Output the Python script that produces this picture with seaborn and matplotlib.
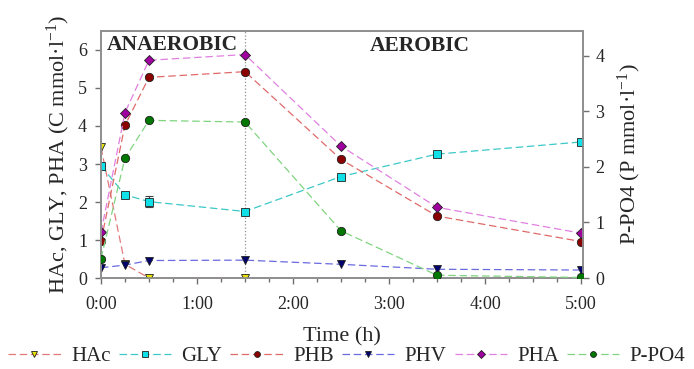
import matplotlib
matplotlib.use("Agg")
import matplotlib.pyplot as plt
import seaborn as sns
import numpy as np
from matplotlib.ticker import MultipleLocator

# ---- data ----
time_h = [0.0, 0.25, 0.5, 1.5, 2.5, 3.5, 5.0]
hac_time = [0.0, 0.25, 0.5, 1.5]
hac = [3.44, 0.36, 0.0, 0.0]
gly = [2.95, 2.19, 2.01, 1.75, 2.67, 3.26, 3.58]
gly_err = [0.0, 0.05, 0.15, 0.05, 0.0, 0.05, 0.0]
phb = [0.97, 4.02, 5.28, 5.43, 3.12, 1.63, 0.96]
phv = [0.27, 0.34, 0.46, 0.47, 0.36, 0.23, 0.21]
pha = [1.20, 4.35, 5.73, 5.88, 3.47, 1.86, 1.18]
ppo4 = [0.35, 2.16, 2.84, 2.81, 0.85, 0.05, 0.01]
x_ticklabels = ["0:00", "1:00", "2:00", "3:00", "4:00", "5:00"]

sns.set_style("white")
plt.rcParams["font.family"] = ["Liberation Serif", "DejaVu Serif"]
plt.rcParams["mathtext.fontset"] = "custom"
plt.rcParams["mathtext.rm"] = "Liberation Serif"
plt.rcParams["mathtext.it"] = "Liberation Serif:italic"

fig = plt.figure(figsize=(6.94, 3.69), dpi=100)
ax = fig.add_axes([0.1455, 0.2466, 0.6945, 0.6694])
ax2 = ax.twinx()

dash = (6, 3)
common = dict(linewidth=0.9, markersize=6, markeredgewidth=0.6, markeredgecolor="#202020")

sns.lineplot(x=hac_time, y=hac, ax=ax, color="#e07a7a", marker="v", markerfacecolor="#e8e400",
             dashes=dash, label="HAc", zorder=4, **common)
sns.lineplot(x=time_h, y=gly, ax=ax, color="#3cc8c8", marker="s", markerfacecolor="#10e0e8",
             dashes=dash, label="GLY", zorder=4, **common)
sns.lineplot(x=time_h, y=phb, ax=ax, color="#e06a6a", marker="o", markerfacecolor="#8b0000",
             dashes=dash, label="PHB", zorder=4, **common)
sns.lineplot(x=time_h, y=phv, ax=ax, color="#6a6ae0", marker="v", markerfacecolor="#00006e",
             dashes=dash, label="PHV", zorder=4, **common)
sns.lineplot(x=time_h, y=pha, ax=ax, color="#e080e0", marker="D", markerfacecolor="#a000a0",
             dashes=dash, label="PHA", zorder=4, **{**common, "markersize": 5.5})
sns.lineplot(x=time_h, y=ppo4, ax=ax2, color="#80d480", marker="o", markerfacecolor="#007800",
             dashes=dash, label="P-PO4", zorder=4, **common)

ax.errorbar(time_h, gly, yerr=gly_err, fmt="none", ecolor="#404040", elinewidth=0.8,
            capsize=3, capthick=0.8, zorder=3)

ax.axvline(1.5, color="#909090", linestyle=":", linewidth=0.9, zorder=1)

ax.set_xlim(0, 5.02)
ax.set_ylim(0, 6.5)
ax2.set_ylim(0, 4.45)

ax.xaxis.set_minor_locator(MultipleLocator(0.25))
ax.set_xticks([0, 1, 2, 3, 4, 5])
ax.set_xticklabels(x_ticklabels)
ax.set_yticks([0, 1, 2, 3, 4, 5, 6])
ax2.set_yticks([0, 1, 2, 3, 4])

for a in (ax, ax2):
    for s in a.spines.values():
        s.set_color("#909090")
        s.set_linewidth(1.3)
ax.tick_params(axis="both", which="both", direction="out", color="#707070", labelsize=13,
               length=4, width=1)
ax.tick_params(axis="x", which="minor", bottom=True, length=3)
ax.tick_params(axis="x", which="major", bottom=True, pad=9)
ax.tick_params(axis="y", left=True, pad=6)
ax2.tick_params(axis="y", right=True, direction="out", color="#707070", labelsize=13, length=4,
                width=1, pad=5)
ax2.grid(False)
ax.grid(False)

ax.set_xlabel("Time (h)", fontsize=16, labelpad=10)
ax.set_ylabel("HAc, GLY, PHA (C mmol·l$^{-1}$)", fontsize=16, labelpad=4)
ax2.set_ylabel("P-PO4 (P mmol·l$^{-1}$)", fontsize=16, labelpad=8)

ax.text(0.012, 0.943, "ANAEROBIC", transform=ax.transAxes, fontsize=15.5, fontweight="bold",
        ha="left", va="center")
ax.text(0.662, 0.94, "AEROBIC", transform=ax.transAxes, fontsize=15.5, fontweight="bold",
        ha="center", va="center")

h1, l1 = ax.get_legend_handles_labels()
h2, l2 = ax2.get_legend_handles_labels()
for lg in (ax.get_legend(), ax2.get_legend()):
    if lg is not None:
        lg.remove()
leg = fig.legend(h1 + h2, l1 + l2, loc="center", bbox_to_anchor=(0.5, 0.035), ncol=6,
                 frameon=False, fontsize=15, handlelength=2.5, handletextpad=0.5,
                 columnspacing=0.4, borderaxespad=0, markerscale=0.7)

fig.savefig("out.png", dpi=100)
